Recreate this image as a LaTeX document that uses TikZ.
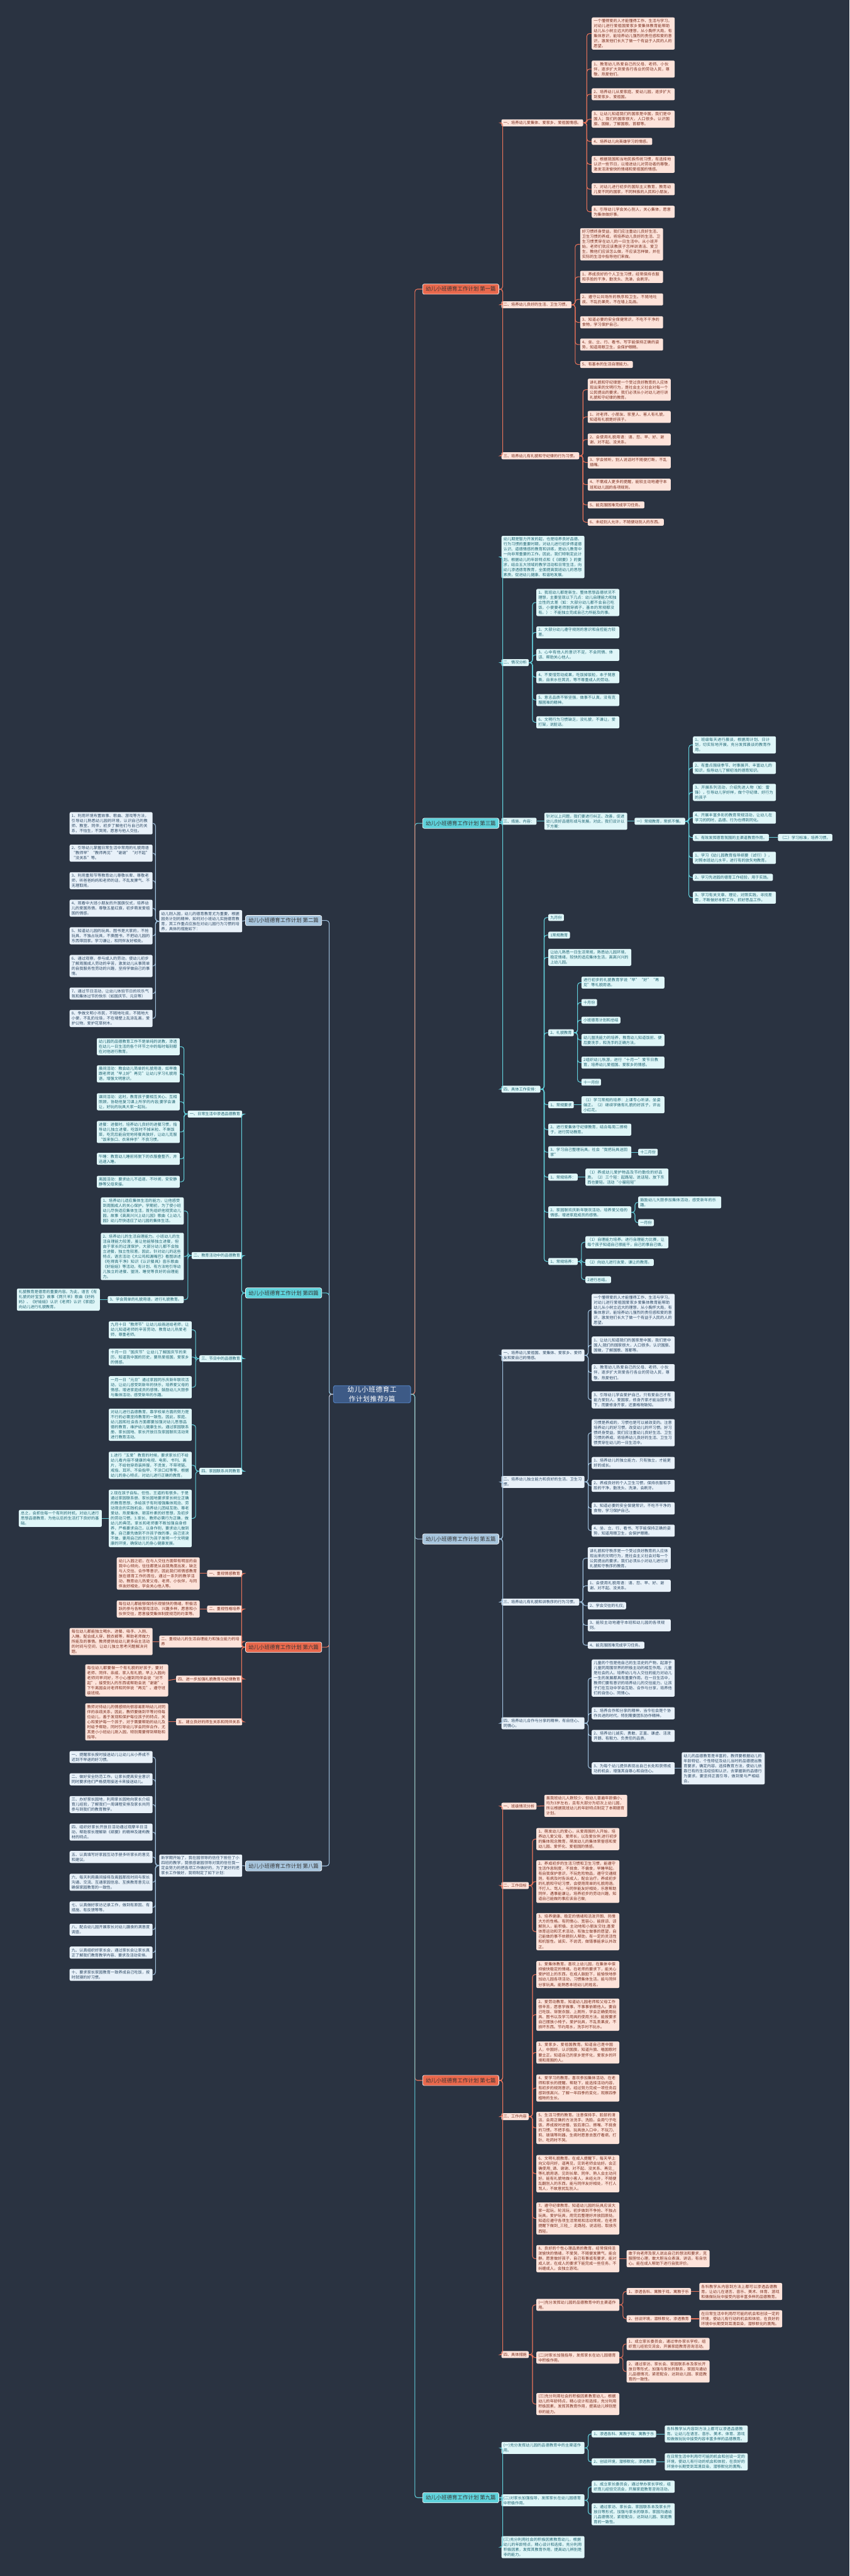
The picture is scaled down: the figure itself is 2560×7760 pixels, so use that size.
\documentclass[tikz,border=0pt]{standalone}
\usepackage{fontspec}
\setmainfont{Noto Sans CJK SC}
\XeTeXlinebreaklocale "zh"
\XeTeXlinebreakskip = 0pt plus 1pt
\definecolor{bg}{RGB}{42,51,65}
\definecolor{hubfill}{RGB}{61,90,134}
\definecolor{hubline}{RGB}{88,138,205}
\definecolor{sorange}{RGB}{233,104,76}
\definecolor{scyan}{RGB}{95,211,220}
\definecolor{sblue}{RGB}{167,197,221}
\definecolor{pfill}{RGB}{253,227,218}
\definecolor{ptext}{RGB}{122,46,30}
\definecolor{mfill}{RGB}{223,246,248}
\definecolor{mtext}{RGB}{31,101,115}
\definecolor{ffill}{RGB}{232,241,249}
\definecolor{ftext}{RGB}{43,71,100}
\definecolor{lorange}{RGB}{232,115,90}
\definecolor{lcyan}{RGB}{98,207,219}
\definecolor{lblue}{RGB}{159,192,220}

\begin{document}
\begin{tikzpicture}[x=1pt, y=-1pt,
    box/.style={rounded corners=4pt, inner xsep=6pt, inner ysep=5pt, align=left,
        font=\fontsize{11.7}{15.2}\selectfont},
    wide/.style={box, text width=238pt},
    peach/.style={fill=pfill, text=ptext},
    mint/.style={fill=mfill, text=mtext},
    frost/.style={fill=ffill, text=ftext},
    sect/.style={rounded corners=5pt, draw=white, line width=1.2pt, inner xsep=9pt,
        inner ysep=8pt, font=\fontsize{16}{20}\selectfont, text=black!80},
    core/.style={rounded corners=6pt, draw=hubline, line width=1.5pt, fill=hubfill,
        text=white, text width=226pt, align=center, font=\fontsize{20.3}{26.7}\selectfont},
    lo/.style={draw=lorange, line width=2pt, rounded corners=8pt},
    lc/.style={draw=lcyan, line width=2pt, rounded corners=8pt},
    lb/.style={draw=lblue, line width=2pt, rounded corners=8pt}]

    % Background
    \fill[bg] (0,0) rectangle (2560,7760);
    \useasboundingbox (0,0) rectangle (2560,7760);

    % Centre
    \node[core] (hub) at (1121,4200) {幼儿小班德育工作计划推荐9篇};

    % Branches
    \node[sect, fill=sorange, anchor=west] (p1) at (1273,871) {幼儿小班德育工作计划 第一篇};
    \node[sect, fill=sblue, anchor=east] (p2) at (970,2773) {幼儿小班德育工作计划 第二篇};
    \node[sect, fill=scyan, anchor=west] (p3) at (1273,2480) {幼儿小班德育工作计划 第三篇};
    \node[sect, fill=scyan, anchor=east] (p4) at (970,3895) {幼儿小班德育工作计划 第四篇};
    \node[sect, fill=sblue, anchor=west] (p5) at (1273,4636) {幼儿小班德育工作计划 第五篇};
    \node[sect, fill=sorange, anchor=east] (p6) at (970,4962) {幼儿小班德育工作计划 第六篇};
    \node[sect, fill=sorange, anchor=west] (p7) at (1273,6267) {幼儿小班德育工作计划 第七篇};
    \node[sect, fill=sblue, anchor=east] (p8) at (970,5621) {幼儿小班德育工作计划 第八篇};
    \node[sect, fill=scyan, anchor=west] (p9) at (1273,7524) {幼儿小班德育工作计划 第九篇};

    % First
    \node[box, peach, anchor=west] (p1a) at (1511,370) {一、培养幼儿爱集体、爱家乡、爱祖国情感。};
    \node[box, peach, anchor=west] (p1b) at (1511,918) {二、培养幼儿良好的生活、卫生习惯。};
    \node[box, peach, anchor=west] (p1c) at (1511,1373) {三、培养幼儿有礼貌和守纪律的行为习惯。};
    \node[wide, peach, anchor=west] (p1a1) at (1783,101) {一个懂得爱的人才能懂得工作、生活与学习。对幼儿进行爱祖国爱家乡爱集体教育能帮助幼儿从小树立远大的理想，从小胸怀大局，有集体意识，能培养幼儿强烈的责任感和爱的意识，激发他们长大了做一个有益于人民的人的愿望。};
    \node[wide, peach, anchor=west] (p1a2) at (1783,208) {1、教育幼儿热爱自己的父母、老师、小伙伴，逐步扩大到爱各行各业的劳动人民，尊敬、热爱他们。};
    \node[wide, peach, anchor=west] (p1a3) at (1783,284) {2、培养幼儿从爱家庭、爱幼儿园，逐步扩大到爱家乡、爱祖国。};
    \node[wide, peach, anchor=west] (p1a4) at (1783,359) {3、让幼儿知道我们的国家是中国，我们是中国人；我们的国家很大，人口很多。认识国旗、国徽，了解国歌、首都等。};
    \node[box, peach, anchor=west] (p1a5) at (1783,426) {4、培养幼儿向英雄学习的情感。};
    \node[wide, peach, anchor=west] (p1a6) at (1783,495) {5、根据我国和当地民族传统习惯，有选择地认识一些节日，以增进幼儿对劳动者的尊敬，激发活泼愉快的情绪和爱祖国的情感。};
    \node[wide, peach, anchor=west] (p1a7) at (1783,570) {7、对幼儿进行初步的国际主义教育，教育幼儿爱不同的国家，不同种族的人民和小朋友。};
    \node[wide, peach, anchor=west] (p1a8) at (1783,638) {8、引导幼儿学会关心别人，关心集体，愿意为集体做好事。};
    \node[wide, peach, anchor=west] (p1b1) at (1748,736) {好习惯终身受益，我们应注重幼儿良好生活、卫生习惯的养成，将培养幼儿良好的生活、卫生习惯贯穿在幼儿的一日生活中。从小班开始，老师们就应该教孩子怎样讲清洁、爱卫生，教他们应该怎么做，不应该怎样做，并在实际的生活中指导他们来做。};
    \node[wide, peach, anchor=west] (p1b2) at (1748,834) {1、养成良好的个人卫生习惯，经常保持衣服和手脸的干净，勤洗头、洗澡，会刷牙。};
    \node[wide, peach, anchor=west] (p1b3) at (1748,902) {2、遵守公共场所的秩序和卫生。不随地吐痰、不乱扔果壳，不在墙上乱画。};
    \node[wide, peach, anchor=west] (p1b4) at (1748,971) {3、知道必要的安全保健常识，不吃不干净的食物，学习保护自己。};
    \node[wide, peach, anchor=west] (p1b5) at (1748,1038) {4、坐、立、行、看书、写字能保持正确的姿势，知道用眼卫生，会保护眼睛。};
    \node[box, peach, anchor=west] (p1b6) at (1748,1098) {5、有基本的生活自理能力。};
    \node[wide, peach, anchor=west] (p1c1) at (1771,1174) {讲礼貌和守纪律是一个受过良好教育的人应体现出来的文明行为，是社会主义社会对每一个公民提出的要求。我们必须从小对幼儿进行讲礼貌和守纪律的教育。};
    \node[wide, peach, anchor=west] (p1c2) at (1771,1256) {1、对老师、小朋友、家里人、客人有礼貌，知道有礼貌是好孩子。};
    \node[wide, peach, anchor=west] (p1c3) at (1771,1324) {2、会使用礼貌用语：请、您、早、好、谢谢、对不起、没关系。};
    \node[wide, peach, anchor=west] (p1c4) at (1771,1393) {3、学会倾听，别人说话时不随便打断，不乱插嘴。};
    \node[wide, peach, anchor=west] (p1c5) at (1771,1460) {4、不需成人更多的提醒，能较主动地遵守本班和幼儿园的各项规则。};
    \node[box, peach, anchor=west] (p1c6) at (1771,1521) {5、能克服困难完成学习任务。};
    \node[box, peach, anchor=west] (p1c7) at (1771,1573) {6、未经别人允许，不随便动别人的东西。};

    % Third
    \node[wide, mint, anchor=west] (p3a) at (1511,1678) {幼儿期是智力开发的起，也是培养良好品德、行为习惯的重要时期，对幼儿进行初步得道德认识、道德情感的教育和训练，是幼儿教育中一向非常重要的工作。因此，我们特制定此计划。根据幼儿的年龄特点和《《纲要》》的要求，结合五大领域的教学活动和日常生活，向幼儿渗透德育教育，全面提高我班幼儿的思想素质，促进幼儿健康、和谐地发展。};
    \node[box, mint, anchor=west] (p3b) at (1511,1996) {二、情况分析};
    \node[box, mint, anchor=west] (p3c) at (1511,2474) {三、措施、内容：};
    \node[box, mint, anchor=west] (p3e) at (1511,3281) {四、具体工作安排：};
    \node[wide, mint, anchor=west] (p3b1) at (1616,1815) {1、我班幼儿都是新生，整体思想品德状况不理想，主要呈现以下几点：幼儿自理能力和独立性的太差（如：大部分幼儿都不会自己吃饭，小便要老师脱穿裤子，基本的常规都没有。）：不能独立完成自己力所能及的事。};
    \node[wide, mint, anchor=west] (p3b2) at (1616,1905) {2、大部分幼儿遵守规则的意识和自控能力较差。};
    \node[wide, mint, anchor=west] (p3b3) at (1616,1973) {3、心中有他人的意识不足，不会同情、体谅、帮助关心他人。};
    \node[wide, mint, anchor=west] (p3b4) at (1616,2040) {4、不爱惜劳动成果，吃饭掉饭粒，本子随意撕，自来水任其流，等不尊重成人的劳动。};
    \node[wide, mint, anchor=west] (p3b5) at (1616,2109) {5、意志品质不够坚强，做事不认真，没有克服困难的精神。};
    \node[wide, mint, anchor=west] (p3b6) at (1616,2176) {6、文明行为习惯缺乏，没礼貌，不谦让，爱打架，说脏话。};
    \node[wide, mint, anchor=west] (p3c1) at (1640,2474) {针对以上问题，我们要进行纠正、改善，促进幼儿良好品德形成与发展。对此，我们设计以下方案：};
    \node[box, mint, anchor=west] (p3c2) at (1912,2474) {一）常规教育，常抓不懈。};
    \node[wide, mint, anchor=west] (p3d1) at (2088,2244) {1、班级每天进行晨谈，根据周计划、日计划，切实际地开展，充分发挥晨谈的教育作用。};
    \node[wide, mint, anchor=west] (p3d2) at (2088,2313) {2、有重点围绕季节、时事展开、丰富幼儿的知识，指导幼儿了解初浅的德育知识。};
    \node[wide, mint, anchor=west] (p3d3) at (2088,2387) {3、开展系列活动，介绍先进人物（如：雷锋），引导幼儿学好样，做个守纪律、好行为的孩子};
    \node[wide, mint, anchor=west] (p3d4) at (2088,2463) {4、开展丰富多彩的教育常规活动，让幼儿在学习的同时，品德、行为也得到同化。};
    \node[box, mint, anchor=west] (p3d5) at (2088,2523) {5、有效发挥德育氛围的主渠道教育作用。};
    \node[box, mint, anchor=west] (p3d5a) at (2344,2523) {（二）学习标准，培养习惯。};
    \node[wide, mint, anchor=west] (p3d6) at (2088,2584) {1、学习《幼儿园教育指导纲要（试行）》，对照本班幼儿水平，进行有的放矢地教育。};
    \node[box, mint, anchor=west] (p3d7) at (2088,2643) {2、学习先进园的德育工作经验，用于实践。};
    \node[wide, mint, anchor=west] (p3d8) at (2088,2704) {3、学习有关文章、理论，对照实践，寻找差距，不断做好本职工作，抓好思品工作。};
    \node[box, mint, anchor=west] (p3e1) at (1652,2764) {九月份};
    \node[box, mint, anchor=west] (p3e2) at (1652,2817) {1常规教育};
    \node[wide, mint, anchor=west] (p3e3) at (1652,2884) {让幼儿熟悉一日生活常规，熟悉幼儿园环境，稳定情绪，较快的适应集体生活，高高兴兴的上幼儿园。};
    \node[box, mint, anchor=west] (p3e4) at (1652,3111) {2、礼貌教育};
    \node[wide, mint, anchor=west] (p3e4a) at (1752,2960) {进行初步的礼貌教育学说“早”“好”“再见”等礼貌用语。};
    \node[box, mint, anchor=west] (p3e4b) at (1752,3020) {十月份};
    \node[box, mint, anchor=west] (p3e4c) at (1752,3073) {小班德育计划和总结};
    \node[wide, mint, anchor=west] (p3e4d) at (1752,3133) {幼儿盥洗能力的培养，教育幼儿知道饭前、便后要洗手，和洗手的正确方法。};
    \node[wide, mint, anchor=west] (p3e4e) at (1752,3201) {2组织幼儿秋游，进行“十月一”爱节日教育，培养幼儿爱祖国、爱家乡的情感。};
    \node[box, mint, anchor=west] (p3e4f) at (1752,3260) {十一月份};
    \node[box, mint, anchor=west] (p3e5) at (1652,3328) {1、常规要求};
    \node[wide, mint, anchor=west] (p3e5a) at (1752,3328) {（1）学习常规的培养：上课专心听讲，坐姿端正。（2）继续学做有礼貌的好孩子，评出小红花。};
    \node[wide, mint, anchor=west] (p3e6) at (1652,3403) {2、进行爱集体守纪律教育，结合每周二擦椅子，进行劳动教育。};
    \node[wide, mint, anchor=west] (p3e7) at (1652,3471) {3、学习自己整理玩具。社会“我把玩具送回家”};
    \node[box, mint, anchor=west] (p3e7a) at (1923,3471) {十二月份};
    \node[box, mint, anchor=west] (p3e8) at (1652,3546) {1、常规培养：};
    \node[wide, mint, anchor=west] (p3e8a) at (1764,3546) {（1）养成幼儿爱护物品及节约勤俭的好品质。（2）三个轻：起路轻、说话轻、放下东西也要轻。活动“小猫轻轻”};
    \node[wide, mint, anchor=west] (p3e9) at (1652,3652) {2、家园联欢庆新年联欢活动，培养爱父母的情感。增进家庭成员的感情。};
    \node[wide, mint, anchor=west] (p3e9a) at (1923,3622) {鼓励幼儿大胆参加集体活动，感受新年的乐趣。};
    \node[box, mint, anchor=west] (p3e9b) at (1923,3683) {一月份};
    \node[box, mint, anchor=west] (p3e10) at (1652,3800) {1、常规培养：};
    \node[wide, mint, anchor=west] (p3e10a) at (1764,3742) {（1）自理能力培养。进行自理能力比赛，让每个孩子知道自己很能干，自己的事自己做。};
    \node[box, mint, anchor=west] (p3e10b) at (1764,3803) {（2）向幼儿进行友爱、谦让的教育。};
    \node[box, mint, anchor=west] (p3e10c) at (1764,3855) {2进行总结。};

    % Fifth
    \node[wide, frost, anchor=west] (p5a) at (1511,4083) {一、培养幼儿爱祖国、爱集体、爱家乡、爱师友和爱自己的情感。};
    \node[wide, frost, anchor=west] (p5b) at (1511,4464) {二、培养幼儿独立能力和良好的生活、卫生习惯。};
    \node[box, frost, anchor=west] (p5c) at (1511,4826) {三、培养幼儿有礼貌和讲秩序的行为习惯。};
    \node[wide, frost, anchor=west] (p5d) at (1511,5191) {四、培养幼儿合作与分享的精神，有自信心、同情心。};
    \node[wide, frost, anchor=west] (p5a1) at (1783,3946) {一个懂得爱的人才能懂得工作、生活与学习。对幼儿进行爱祖国爱家乡爱集体教育能帮助幼儿从小树立远大的理想，从小胸怀大局，有集体意识，能培养幼儿强烈的责任感和爱的意识，激发他们长大了做一个有益于人民的人的愿望。};
    \node[wide, frost, anchor=west] (p5a2) at (1783,4052) {1、让幼儿知道我们的国家是中国，我们是中国人;我们的国家很大，人口很多。认识国旗、国徽，了解国歌、首都等。};
    \node[wide, frost, anchor=west] (p5a3) at (1783,4135) {2、教育幼儿热爱自己的父母、老师、小伙伴，逐步扩大到爱各行各业的劳动人民，尊敬、热爱他们。};
    \node[wide, frost, anchor=west] (p5a4) at (1783,4217) {3、引导幼儿学会爱护自己，只有爱自己才有能力爱别人、爱国家，修身齐家才能治国平天下，而要修身齐家，还要格物致知。};
    \node[wide, frost, anchor=west] (p5b1) at (1783,4316) {习惯是养成的，习惯也是可以被改变的。注意培养幼儿的好习惯，改变幼儿的坏习惯。好习惯终身受益，我们应注重幼儿良好生活、卫生习惯的养成，将培养幼儿良好的生活、卫生习惯贯穿在幼儿的一日生活中。};
    \node[wide, frost, anchor=west] (p5b2) at (1783,4407) {1、培养幼儿的独立能力，只有独立，才能更好的成长。};
    \node[wide, frost, anchor=west] (p5b3) at (1783,4476) {2、养成良好的个人卫生习惯，保持衣服和手脸的干净，勤洗头、洗澡，会刷牙。};
    \node[wide, frost, anchor=west] (p5b4) at (1783,4544) {3、知道必要的安全保健常识，不吃不干净的食物，学习保护自己。};
    \node[wide, frost, anchor=west] (p5b5) at (1783,4611) {4、坐、立、行、看书、写字能保持正确的姿势，知道用眼卫生，会保护眼睛。};
    \node[wide, frost, anchor=west] (p5c1) at (1771,4694) {讲礼貌和守秩序是一个受过良好教育的人应体现出来的文明行为，是社会主义社会对每一个公民提出的要求。我们必须从小对幼儿进行讲礼貌和守秩序的教育。};
    \node[wide, frost, anchor=west] (p5c2) at (1771,4777) {1、会使用礼貌用语：请、您、早、好、谢谢、对不起、没关系。};
    \node[box, frost, anchor=west] (p5c3) at (1771,4837) {2、学会交往的礼仪;};
    \node[wide, frost, anchor=west] (p5c4) at (1771,4896) {3、能较主动地遵守本班和幼儿园的各项规则。};
    \node[box, frost, anchor=west] (p5c5) at (1771,4956) {4、能克服困难完成学习任务。};
    \node[wide, frost, anchor=west] (p5d1) at (1783,5055) {儿童的个性是他自己的生活史的产物，起源于儿童同周围世界的积极主动的相互作用。儿童是社会的人。培养幼儿与人交往的能力对幼儿一生的发展都具有重要作用。在一日生活中，教师们要有意识的培养幼儿的交往能力，让孩子们在互动中学会互助、合作与分享，培养他们的自信心、同情心。};
    \node[wide, frost, anchor=west] (p5d2) at (1783,5161) {1、培养合作和分享的精神，当今社会是个协作共进的时代，特别需要团队协作精神。};
    \node[wide, frost, anchor=west] (p5d3) at (1783,5229) {2、培养幼儿诚实、勇敢、正直、谦虚、活泼开朗、有毅力、负责任的品质。};
    \node[wide, frost, anchor=west] (p5d4) at (1783,5327) {3、为每个幼儿提供表现出自己长处和获得成功的机会，增强其自尊心和自信心。};
    \node[wide, frost, anchor=west] (p5d4a) at (2054,5327) {幼儿的品德教育是丰富的，教师要根据幼儿的年龄特征、个性特征及幼儿当时的品德提出教育要求，确定内容，选择教育方法，使幼儿依靠已有的生活经验和认识，去掌握新的品德行为要求。要坚持正面引导，做到爱与严相结合。};

    % Seventh
    \node[box, peach, anchor=west] (p7a) at (1511,5441) {一、班级情况分析};
    \node[wide, peach, anchor=west] (p7a1) at (1640,5440) {虽我班幼儿人数较少，但幼儿普遍年龄偏小，均为3岁左右，且有大部分为初次上幼儿园，所以根据我班幼儿的年龄特点制定了本期德育计划。};
    \node[box, peach, anchor=west] (p7b) at (1511,5680) {二、工作目标};
    \node[wide, peach, anchor=west] (p7b1) at (1616,5540) {1、萌发幼儿的爱心，从爱周围的人开始，培养幼儿爱父母、爱师长，以及爱伙伴;进行初步的集体观念教育，萌发幼儿的集体荣誉感和爱幼儿园、爱怀化、爱祖国的情感。};
    \node[wide, peach, anchor=west] (p7b2) at (1616,5668) {2、养成初步的生活习惯和卫生习惯，能遵守生活作息制度，不挑食、不偏食，早睡早起。有自我保护意识，不玩危险物品，遵守交通规则，有病及时告诉成人，配合治疗。养成初步的礼貌和守纪习惯，会使用简单的礼貌用语。不打人、骂人，与同伴能友好相处，乐意帮助同伴，遇事能谦让。培养初步的劳动兴趣，知道自己能做的事应该自己做;};
    \node[wide, peach, anchor=west] (p7b3) at (1616,5819) {3、培养健康、稳定的情绪和活泼开朗、热情大方的性格。有同情心、宽容心，能原谅、谅解别人，能积极、主动地和小朋友交往;喜爱体育运动和艺术活动，有独立做事的愿望，自己能做的事不依赖别人帮助，有一定的灵活性和机智性。诚实、不说谎，做错事能承认并改正。};
    \node[box, peach, anchor=west] (p7c) at (1511,6376) {三、工作内容};
    \node[wide, peach, anchor=west] (p7c1) at (1616,5948) {1、爱集体教育。喜欢上幼儿园，在集体中保持愉快稳定的情绪。在老师的要求下，能关心爱护班上的东西。在成人鼓励下，能愉快地参加幼儿园各项活动，习惯集体生活。能与同伴分享玩具。能熟悉本班幼儿的姓名。};
    \node[wide, peach, anchor=west] (p7c2) at (1616,6069) {2、爱劳动教育。知道幼儿园老师和父母工作很辛苦，愿意学做事，不事事依赖他人。要自己吃饭、穿脱衣服、上厕所，学会正确使用玩具、图书以及学习用具的使用方法。能按要求自己摆放小椅子。爱护玩具，不乱丢果皮，不损坏东西。节约用水，洗手时不玩水。};
    \node[wide, peach, anchor=west] (p7c3) at (1616,6183) {3、爱家乡、爱祖国教育。知道自己是中国人，中国好。认识国旗，知道升旗、唱国歌时要立正。知道自己的家乡是怀化，爱家乡的环境和周围的人。};
    \node[wide, peach, anchor=west] (p7c4) at (1616,6290) {4、爱学习的教育。喜欢参加集体活动，在老师和家长的提醒、帮助下，能选择活动内容，有初步的规则意识。经过努力完成一项任务后感到很高兴。了解一年四季的变化，观察四季植物的生长。};
    \node[wide, peach, anchor=west] (p7c5) at (1616,6410) {5、生活习惯的教育。注意保持手、脸部的清洁，会用正确的方法洗手、洗脸。会用勺子吃饭，养成按时进餐、饭后漱口、擦嘴、不挑食的习惯。不把手指、玩具放入口中，不玩刀、剪、玻璃等利器。生病时愿意去医疗看病，打针、吃药时不哭。};
    \node[wide, peach, anchor=west] (p7c6) at (1616,6548) {6、文明礼貌教育。在成人提醒下，每天早上向父母问好，道再见，见到老师会站好。会正确使用\_请、谢谢、对不起、没关系、再见\_等礼貌用语，见到长辈、同伴、熟人会主动问好。能有礼貌地做小客人，未经允许，不随便乱翻别人的东西。能与同伴友好相处，不打人骂人，不故意扰乱别人。};
    \node[wide, peach, anchor=west] (p7c7) at (1616,6683) {7、遵守纪律教育。知道幼儿园的玩具应该大家一起玩，轮流玩，初步做到不争抢、不独占玩具。爱护玩具，用完后整理好并放回原处。知道应遵守各项生活常规和活动常规，在老师提醒下做到\_三轻\_：走路轻、说话轻、取放东西轻。};
    \node[wide, peach, anchor=west] (p7c8) at (1616,6804) {8、良好的个性心理品质的教育。经常保持活泼愉快的情绪，不爱哭，不随便发脾气，能合群。愿意做好孩子，自己有事或有要求，能对成人说，在成人的要求下能完成一些任务。不纠缠成人，会独立游戏。};
    \node[wide, peach, anchor=west] (p7c8a) at (1888,6804) {敢于向老师及家人说出自己的想法和要求，克服胆怯心理，敢大胆当众表演、讲话，有自信心。能在成人帮助下进行自我评价。};
    \node[box, peach, anchor=west] (p7d) at (1511,7093) {四、具体措施};
    \node[wide, peach, anchor=west] (p7d1) at (1616,6943) {(一)充分发挥幼儿园的品德教育中的主渠道作用。};
    \node[box, peach, anchor=west] (p7d1a) at (1888,6903) {1、渗透各科、寓教于戏、寓教于乐};
    \node[wide, peach, anchor=west] (p7d1a1) at (2107,6903) {各科教学从内容到方法上都可以渗透品德教育。让幼儿在语言、音乐、美术、体育、游戏和做做玩玩中接受内容丰富多样的品德教育。};
    \node[box, peach, anchor=west] (p7d1b) at (1888,6985) {2、创设环境，潜移默化，渗透教育};
    \node[wide, peach, anchor=west] (p7d1b1) at (2107,6985) {在日常生活中利用尽可能的机会和创设一定的环境，使幼儿有行动的机会和体验，在良好的环境中长期受到耳濡目染，潜移默化的熏陶。};
    \node[wide, peach, anchor=west] (p7d2) at (1616,7102) {(二)对家长加强指导，发挥家长在幼儿园德育中积极作用。};
    \node[wide, peach, anchor=west] (p7d2a) at (1888,7061) {1、成立家长委员会，通过举办家长学校，组织育儿经验交流会，开展家庭教育咨询活动。};
    \node[wide, peach, anchor=west] (p7d2b) at (1888,7144) {2、通过家访、家长会、家园联系本及家长开放日等形式，加强与家长的联系，家园沟通幼儿品德情况，紧密配合，达到幼儿园、家庭教育的一致性。};
    \node[wide, peach, anchor=west] (p7d3) at (1616,7242) {(三)充分利用社会的积极因素教育幼儿，根据幼儿的年龄特点，精心设计和选择，充分利用积极因素，发挥其教育作用，提高幼儿辨别是非的能力。};

    % Ninth
    \node[wide, mint, anchor=west] (p9a) at (1511,7374) {(一)充分发挥幼儿园的品德教育中的主渠道作用。};
    \node[box, mint, anchor=west] (p9a1) at (1783,7332) {1、渗透各科、寓教于戏、寓教于乐};
    \node[wide, mint, anchor=west] (p9a1a) at (2003,7332) {各科教学从内容到方法上都可以渗透品德教育。让幼儿在语言、音乐、美术、体育、游戏和做做玩玩中接受内容丰富多样的品德教育。};
    \node[box, mint, anchor=west] (p9a2) at (1783,7416) {2、创设环境，潜移默化，渗透教育};
    \node[wide, mint, anchor=west] (p9a2a) at (2003,7416) {在日常生活中利用尽可能的机会和创设一定的环境，使幼儿有行动的机会和体验，在良好的环境中长期受到耳濡目染，潜移默化的熏陶。};
    \node[wide, mint, anchor=west] (p9b) at (1511,7532) {(二)对家长加强指导，发挥家长在幼儿园德育中积极作用。};
    \node[wide, mint, anchor=west] (p9b1) at (1783,7491) {1、成立家长委员会，通过举办家长学校，组织育儿经验交流会，开展家庭教育咨询活动。};
    \node[wide, mint, anchor=west] (p9b2) at (1783,7574) {2、通过家访、家长会、家园联系本及家长开放日等形式，加强与家长的联系，家园沟通幼儿品德情况，紧密配合，达到幼儿园、家庭教育的一致性。};
    \node[wide, mint, anchor=west] (p9c) at (1511,7673) {(三)充分利用社会的积极因素教育幼儿，根据幼儿的年龄特点，精心设计和选择，充分利用积极因素，发挥其教育作用，提高幼儿辨别是非的能力。};

    % Second
    \node[wide, frost, anchor=east] (p2a) at (730,2775) {幼儿刚入园，幼儿的德育教育尤为重要，根据园务计划的精神，如何对小班幼儿实施德育教育，其工作重点应放在对幼儿园行为习惯的培养，具体的措施如下：};
    \node[wide, frost, anchor=east] (p2a1) at (460,2480) {1、利用环境布置故事、歌曲、游戏等方法，引导幼儿熟悉幼儿园的环境，认识自己的教师、教室、同伴，初步了解他们与自己的关系，不怕生，不哭闹，愿意与他人交往。};
    \node[wide, frost, anchor=east] (p2a2) at (460,2570) {2、引导幼儿掌握日常生活中常用的礼貌用语“教师早”“教师再见”“谢谢”“对不起”“没关系”等。};
    \node[wide, frost, anchor=east] (p2a3) at (460,2653) {3、利用重阳节等教育幼儿尊敬长辈、尊敬老师，听爸爸妈妈和老师的话，不乱发脾气、不无理取闹。};
    \node[wide, frost, anchor=east] (p2a4) at (460,2736) {4、观看中大班小朋友的升国旗仪式，培养幼儿的爱国热情，尊敬五星红旗，初步萌发爱祖国的情感。};
    \node[wide, frost, anchor=east] (p2a5) at (460,2819) {5、知道幼儿园的玩具、图书是大家的，不抢玩具、不独占玩具，不撕图书，不把幼儿园的东西带回家。学习谦让，和同伴友好相处。};
    \node[wide, frost, anchor=east] (p2a6) at (460,2910) {6、通过观察，参与成人的劳动，使幼儿初步了解周围成人劳动的辛苦，激发幼儿从事简单的自我服务性劳动的兴趣，坚持学做自己的事情。};
    \node[wide, frost, anchor=east] (p2a7) at (460,2993) {7、通过节日活动，让幼儿体验节日的欢乐气氛和集体过节的快乐（如国庆节、元旦等）};
    \node[wide, frost, anchor=east] (p2a8) at (460,3068) {8、争做文明小市民，不随地吐痰，不随地大小便，不乱扔垃圾，不在墙壁上乱涂乱画，爱护公物，爱护花草树木。};

    % Fourth
    \node[box, mint, anchor=east] (p4a) at (730,3356) {一、日常生活中渗透品德教育};
    \node[box, mint, anchor=east] (p4b) at (730,3782) {二、教育活动中的品德教育};
    \node[box, mint, anchor=east] (p4c) at (730,4093) {三、节日中的品德教育};
    \node[box, mint, anchor=east] (p4d) at (730,4432) {四、家园联系共同教育};
    \node[wide, mint, anchor=east] (p4a1) at (542,3153) {幼儿园的品德教育工作不是单纯的说教，渗透在幼儿一日生活的各个环节之中的每时每刻都在对他进行教育。};
    \node[wide, mint, anchor=east] (p4a2) at (542,3235) {晨间活动：教会幼儿简单的礼貌用语，如早晚跟老师说“早上好”再见”让幼儿学习礼貌用语，增强文明意识。};
    \node[wide, mint, anchor=east] (p4a3) at (542,3319) {课间活动：这时，教育孩子要相互关心、互相照顾，协助他复习课上所学的内容;要学会谦让，好玩的玩具大家一起玩。};
    \node[wide, mint, anchor=east] (p4a4) at (542,3410) {进餐：进餐时，培养幼儿良好的进餐习惯，指导幼儿独立进餐，吃饭时不掉米粒、不剩饭菜，吃完后能自觉地将餐具放好，让幼儿克服“饭来张口、衣来伸手”不良习惯。};
    \node[wide, mint, anchor=east] (p4a5) at (542,3491) {午睡：教育幼儿睡前将脱下的衣服叠整齐，并迅速入睡。};
    \node[wide, mint, anchor=east] (p4a6) at (542,3560) {离园活动：要求幼儿不追逐、不吵闹，安安静静等父母来接。};
    \node[wide, mint, anchor=east] (p4b1) at (554,3648) {1、培养幼儿适应集体生活的能力，让他感受到周围成人的关心保护。学期初，为了使小班幼儿尽快适应集体生活，首先组织他观赏幼儿园，故事《高高兴兴上幼儿园》歌曲《上幼儿园》幼儿尽快适应了幼儿园的集体生活。};
    \node[wide, mint, anchor=east] (p4b2) at (554,3785) {2、培养幼儿的生活自理能力。小班幼儿的生活自理能力较差，虽让他能够独立进餐，但由于家长的过渡保护，大部分幼儿都不会独立进餐，独立性较差。因此，针对幼儿的这些特点，语言活动《大公鸡和漏嘴巴》看图讲述《吃得真干净》知识《认识餐具》音乐歌曲《好娃娃》等活动，有计划、有方法地引导幼儿独立的进餐、盥洗、睡觉等良好的自理能力。};
    \node[box, mint, anchor=east] (p4b3) at (554,3915) {3、学会简单的礼貌用语，进行礼貌教育。};
    \node[wide, mint, anchor=east] (p4b3a) at (301,3915) {礼貌教育是德育的重要内容。为此，语言《有礼貌的好宝宝》故事《两只羊》歌曲《好妈妈》、《好娃娃》认识《老师》认识《家庭》向幼儿进行礼貌教育。};
    \node[wide, mint, anchor=east] (p4c1) at (578,4006) {九月十日“教师节”让幼儿绘画送给老师，让幼儿知道老师的辛苦劳动，教育幼儿热爱老师，尊重老师。};
    \node[wide, mint, anchor=east] (p4c2) at (578,4088) {十月一日“国庆节”让幼儿了解国庆节的来历，知道我中国的历史，要热爱祖国，爱家乡的情感。};
    \node[wide, mint, anchor=east] (p4c3) at (578,4179) {一月一日“元旦”通过家园同乐庆新年联欢活动，让幼儿感受到新年的快乐，培养爱父母的情感。增进家庭成员的感情。鼓励幼儿大胆参与集体活动，感受新年的乐趣。};
    \node[wide, mint, anchor=east] (p4d1) at (578,4292) {对幼儿进行品德教育，靠学校单方面的努力是不行的必需坚持教育的一致性。因此，家庭、幼儿园和社会各方面都要加强对幼儿思想品德的教育，维护幼儿健康生长。通过家园联系册、家长园地、家长开放日及家园联欢活动来进行教育活动。};
    \node[wide, mint, anchor=east] (p4d2) at (578,4414) {1.进行“五爱”教育的时候，要求家长们不给幼儿看内容不健康的电视、电影、书刊、画片，不给他穿奇装异服，不烫发，不带项链、戒指、耳环、不染指甲，不涂口红等等。根据幼儿的身心特点，对幼儿进行正确的教育。};
    \node[wide, mint, anchor=east] (p4d3) at (578,4574) {2.现在孩子自私、任性、王道的有很多。于是通过家园联系册、家长园地要求家长树立正确的教育思想，多给孩子有利增强集体观念、劳动观念的实践机会，培养幼儿团结互助、尊老爱幼、热爱集体、艰苦朴素的好思想，及初步的劳动习惯。3.家长、教师必需行为正确，做幼儿的典范。家长和老师要不断加强自身修养，严格要求自己，以身作则，要求幼儿做到事，自己要先做到不许孩子做的事，自己坚决不做，要用自己的言行为孩子发明一个文明健康的环境，确保幼儿的身心健康发展。};
    \node[wide, mint, anchor=east] (p4d3a) at (307,4574) {总之，会抓住每一个有利的时机，对幼儿进行思想品德教育，为他以后的生活打下良好的基础。};

    % Sixth
    \node[box, peach, anchor=east] (p6a) at (730,4740) {一、重视情感教育};
    \node[wide, peach, anchor=east] (p6a1) at (602,4740) {幼儿入园之初，在与人交往方面带有明显的自我中心倾向，往往都是从自我角度出发，缺乏与人交往、合作等意识，因此我们将情感教育放在德育工作的首位，通过一系列的教学活动，教育幼儿热爱父母、老师、小伙伴，与同伴友好相处，学会关心他人等。};
    \node[box, peach, anchor=east] (p6b) at (730,4847) {二、重视性格培养};
    \node[wide, peach, anchor=east] (p6b1) at (602,4847) {每位幼儿都能够保持乐观愉快的情绪，积极活跃的参与各种游戏活动，兴趣多样，愿意和小伙伴交往，愿意接受集体制度规范的约束等。};
    \node[wide, peach, anchor=east] (p6c) at (730,4945) {二、重视幼儿的生活自理能力和独立能力的培养};
    \node[wide, peach, anchor=east] (p6c1) at (460,4945) {每位幼儿都能独立喝水、进餐、吸手、入厕、入睡。配合成人穿、脱衣裤等，帮助老师做力所能及的事情。教师提供给幼儿更多自主活动的时间与空间，让幼儿独立思考问题解决问题。};
    \node[box, peach, anchor=east] (p6d) at (730,5058) {四、进一步加强礼貌教育与纪律教育};
    \node[wide, peach, anchor=east] (p6d1) at (507,5062) {每位幼儿都要做一个有礼貌的好孩子，要对老师、同伴、亲戚、家人有礼貌，早上入园向老师问早问好，不小心撞到同伴会说“对不起”，接受别人的东西或帮助会说“谢谢”。下午离园会对老师和同伴说“再见”。遵守班级班规。};
    \node[box, peach, anchor=east] (p6e) at (730,5187) {五、建立良好的师生关系和同伴关系};
    \node[wide, peach, anchor=east] (p6e1) at (507,5187) {教师对待幼儿的情感倾向很容易影响幼儿对同伴的亲疏关系，因此，教师要做到平等对待每位幼儿，善于发现和保护每位孩子的特点，关心和爱护每一个孩子，对于需要帮助的幼儿及时给予帮助，同时引导幼儿学会同伴合作，尤其是小小班幼儿刚入园，特别需要得到帮助和指导。};

    % Eighth
    \node[wide, frost, anchor=east] (p8a) at (730,5620) {新学期开始了，我在园领导的信任下担任了小四班的教学，我很感谢园领导对我的信任我一定会努力的把各项工作做好的，为了更好的把家长工作做好，我特制定了如下计划：};
    \node[wide, frost, anchor=east] (p8a1) at (460,5293) {一、提醒家长按时接送幼儿让幼儿从小养成不迟到不早退的好习惯。};
    \node[wide, frost, anchor=east] (p8a2) at (460,5360) {二、做好安全防范工作。让家长提高安全意识同时要求他们严格使用接送卡来接送幼儿。};
    \node[wide, frost, anchor=east] (p8a3) at (460,5436) {三、办好家长园地，利用家长园地向家长介绍育儿经验，了解我们一周课程安排及家长共同参与到我们的教育教学。};
    \node[wide, frost, anchor=east] (p8a4) at (460,5519) {四、组织好家长开放日活动通过观摩半日活动，帮助家长理解新《纲要》的精神及建构教材的特点。};
    \node[wide, frost, anchor=east] (p8a5) at (460,5594) {五、认真填写好家园互动手册多听家长的意见和建议。};
    \node[wide, frost, anchor=east] (p8a6) at (460,5670) {六、每天利用晨间接待及离园那段时间与家长沟通、交流、互通家园信息、互换教育意见以确保家园教育的一致性。};
    \node[wide, frost, anchor=east] (p8a7) at (460,5746) {七、认真做好家访记录工作，做到有原因、有措施、有反馈等等。};
    \node[wide, frost, anchor=east] (p8a8) at (460,5813) {八、配合幼儿园开展家长对幼儿膳食的满意度调查。};
    \node[wide, frost, anchor=east] (p8a9) at (460,5882) {九、认真组织好家长会，通过家长会让家长真正了解我们教育教学内容、要求及活动安排。};
    \node[wide, frost, anchor=east] (p8a10) at (460,5949) {十、要求家长家园教育一致养成自己吃饭，按时就寝的好习惯。};

    % Spine from the centre
    \draw[lc] (hub.east) -- ++(12,0) |- (p3.west);
    \draw[lo] (hub.east) -- ++(12,0) |- (p1.west);
    \draw[lb] (hub.east) -- ++(12,0) |- (p5.west);
    \draw[lo] (hub.east) -- ++(12,0) |- (p7.west);
    \draw[lc] (hub.east) -- ++(12,0) |- (p9.west);
    \draw[lc] (hub.west) -- ++(-12,0) |- (p4.east);
    \draw[lb] (hub.west) -- ++(-12,0) |- (p2.east);
    \draw[lo] (hub.west) -- ++(-12,0) |- (p6.east);
    \draw[lb] (hub.west) -- ++(-12,0) |- (p8.east);

    % Links, right side
    \foreach \k in {a,b,c} \draw[lo] (p1.east) -- ++(11,0) |- (p1\k.west);
    \foreach \k in {1,...,8} \draw[lo] (p1a.east) -- ++(11,0) |- (p1a\k.west);
    \foreach \k in {1,...,6} \draw[lo] (p1b.east) -- ++(11,0) |- (p1b\k.west);
    \foreach \k in {1,...,7} \draw[lo] (p1c.east) -- ++(11,0) |- (p1c\k.west);

    \foreach \k in {a,b,c,e} \draw[lc] (p3.east) -- ++(11,0) |- (p3\k.west);
    \foreach \k in {1,...,6} \draw[lc] (p3b.east) -- ++(11,0) |- (p3b\k.west);
    \draw[lc] (p3c.east) -- (p3c1.west);
    \draw[lc] (p3c1.east) -- (p3c2.west);
    \foreach \k in {1,...,8} \draw[lc] (p3c2.east) -- ++(11,0) |- (p3d\k.west);
    \draw[lc] (p3d5.east) -- (p3d5a.west);
    \foreach \k in {1,...,10} \draw[lc] (p3e.east) -- ++(11,0) |- (p3e\k.west);
    \foreach \k in {a,...,f} \draw[lc] (p3e4.east) -- ++(11,0) |- (p3e4\k.west);
    \draw[lc] (p3e5.east) -- (p3e5a.west);
    \draw[lc] (p3e7.east) -- (p3e7a.west);
    \draw[lc] (p3e8.east) -- (p3e8a.west);
    \foreach \k in {a,b} \draw[lc] (p3e9.east) -- ++(11,0) |- (p3e9\k.west);
    \foreach \k in {a,b,c} \draw[lc] (p3e10.east) -- ++(11,0) |- (p3e10\k.west);

    \foreach \k in {a,b,c,d} \draw[lb] (p5.east) -- ++(11,0) |- (p5\k.west);
    \foreach \k in {1,...,4} \draw[lb] (p5a.east) -- ++(11,0) |- (p5a\k.west);
    \foreach \k in {1,...,5} \draw[lb] (p5b.east) -- ++(11,0) |- (p5b\k.west);
    \foreach \k in {1,...,5} \draw[lb] (p5c.east) -- ++(11,0) |- (p5c\k.west);
    \foreach \k in {1,...,4} \draw[lb] (p5d.east) -- ++(11,0) |- (p5d\k.west);
    \draw[lb] (p5d4.east) -- (p5d4a.west);

    \foreach \k in {a,b,c,d} \draw[lo] (p7.east) -- ++(11,0) |- (p7\k.west);
    \draw[lo] (p7a.east) -- (p7a1.west);
    \foreach \k in {1,2,3} \draw[lo] (p7b.east) -- ++(11,0) |- (p7b\k.west);
    \foreach \k in {1,...,8} \draw[lo] (p7c.east) -- ++(11,0) |- (p7c\k.west);
    \draw[lo] (p7c8.east) -- (p7c8a.west);
    \foreach \k in {1,2,3} \draw[lo] (p7d.east) -- ++(11,0) |- (p7d\k.west);
    \foreach \k in {a,b} \draw[lo] (p7d1.east) -- ++(11,0) |- (p7d1\k.west);
    \draw[lo] (p7d1a.east) -- (p7d1a1.west);
    \draw[lo] (p7d1b.east) -- (p7d1b1.west);
    \foreach \k in {a,b} \draw[lo] (p7d2.east) -- ++(11,0) |- (p7d2\k.west);

    \foreach \k in {a,b,c} \draw[lc] (p9.east) -- ++(11,0) |- (p9\k.west);
    \foreach \k in {1,2} \draw[lc] (p9a.east) -- ++(11,0) |- (p9a\k.west);
    \draw[lc] (p9a1.east) -- (p9a1a.west);
    \draw[lc] (p9a2.east) -- (p9a2a.west);
    \foreach \k in {1,2} \draw[lc] (p9b.east) -- ++(11,0) |- (p9b\k.west);

    % Links, left side
    \draw[lb] (p2.west) -- (p2a.east);
    \foreach \k in {1,...,8} \draw[lb] (p2a.west) -- ++(-11,0) |- (p2a\k.east);

    \foreach \k in {a,b,c,d} \draw[lc] (p4.west) -- ++(-11,0) |- (p4\k.east);
    \foreach \k in {1,...,6} \draw[lc] (p4a.west) -- ++(-11,0) |- (p4a\k.east);
    \foreach \k in {1,2,3} \draw[lc] (p4b.west) -- ++(-11,0) |- (p4b\k.east);
    \draw[lc] (p4b3.west) -- (p4b3a.east);
    \foreach \k in {1,2,3} \draw[lc] (p4c.west) -- ++(-11,0) |- (p4c\k.east);
    \foreach \k in {1,2,3} \draw[lc] (p4d.west) -- ++(-11,0) |- (p4d\k.east);
    \draw[lc] (p4d3.west) -- (p4d3a.east);

    \foreach \k in {a,...,e} \draw[lo] (p6.west) -- ++(-11,0) |- (p6\k.east);
    \foreach \k in {a,...,e} \draw[lo] (p6\k.west) -- (p6\k1.east);

    \draw[lb] (p8.west) -- (p8a.east);
    \foreach \k in {1,...,10} \draw[lb] (p8a.west) -- ++(-11,0) |- (p8a\k.east);

\end{tikzpicture}
\end{document}
